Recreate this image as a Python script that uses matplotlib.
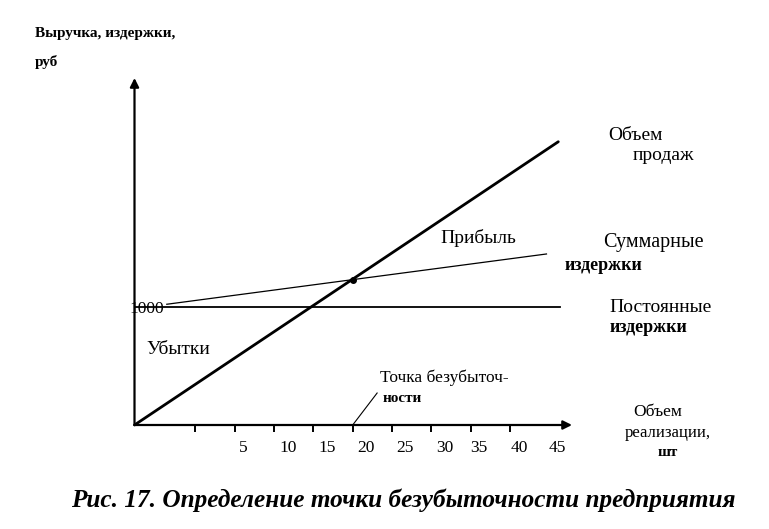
import matplotlib
matplotlib.use('Agg')
import matplotlib.pyplot as plt

plt.rcParams['font.family'] = ['Liberation Serif', 'DejaVu Serif']

# data (quantity in pieces, money in rub)
revenue_qty = [-7.7, 46.1]
revenue = [0, 2400]
fixed_qty = [-7.7, 46.3]
fixed_cost = [1000, 1000]
total_qty = [-3.6, 44.6]
total_cost = [1023, 1449]
be_qty = 20
be_value = 1225

tick_vals = [0, 5, 10, 15, 20, 25, 30, 35, 40]
tick_labels = ['5', '10', '15', '20', '25', '30', '35', '40', '45']
label_pos = [6.1, 11.8, 16.8, 21.7, 26.6, 31.7, 36.0, 41.1, 46.0]

W, H = 769, 529
fig = plt.figure(figsize=(W / 100, H / 100), dpi=100)


def fx(x):
    return x / W


def fy(y):
    return 1 - y / H


ax = fig.add_axes([fx(134.5), fy(425), fx(572) - fx(134.5), fy(78) - fy(425)])
ax.set_xlim(-7.7, 47.84)
ax.set_ylim(0, 2940)
for s in ax.spines.values():
    s.set_visible(False)
ax.patch.set_alpha(0)

# axes with arrows
ax.annotate('', xy=(1, 0), xytext=(0, 0), xycoords='axes fraction',
            arrowprops=dict(arrowstyle='-|>', lw=1.6, color='black', mutation_scale=13,
                            shrinkA=0, shrinkB=0), annotation_clip=False)
ax.annotate('', xy=(0, 1), xytext=(0, 0), xycoords='axes fraction',
            arrowprops=dict(arrowstyle='-|>', lw=1.6, color='black', mutation_scale=13,
                            shrinkA=0, shrinkB=0), annotation_clip=False)

ax.set_xticks(tick_vals)
ax.set_xticklabels([])
ax.tick_params(axis='x', which='major', direction='out', length=5, width=1.4, color='black')
ax.set_xticks(label_pos, minor=True)
ax.set_xticklabels(tick_labels, minor=True)
ax.tick_params(axis='x', which='minor', length=0, pad=11, labelsize=12.5)

ax.set_yticks([1000])
ax.set_yticklabels(['1000'], ha='left')
ax.tick_params(axis='y', length=0, pad=3.5, labelsize=12.5)

ax.plot(revenue_qty, revenue, color='black', lw=2.0, solid_capstyle='round', clip_on=False)
ax.plot(fixed_qty, fixed_cost, color='black', lw=1.3, clip_on=False)
ax.plot(total_qty, total_cost, color='black', lw=0.9, clip_on=False)
ax.plot([be_qty], [be_value], 'o', color='black', ms=4, clip_on=False)
ax.plot([be_qty, 23.1], [0, 271], color='black', lw=0.8, clip_on=False)

texts = [
    ('Выручка, издержки,', 35, 33, 11, 'bold'),
    ('руб', 35, 62, 11, 'bold'),
    ('Объем', 608, 135, 14, 'normal'),
    ('продаж', 633, 156, 14, 'normal'),
    ('Прибыль', 440, 238, 14, 'normal'),
    ('Суммарные', 603, 243, 14.5, 'normal'),
    ('издержки', 565, 265, 13, 'bold'),
    ('Постоянные', 609, 307, 14, 'normal'),
    ('издержки', 610, 327, 13, 'bold'),
    ('Убытки', 146, 349, 14, 'normal'),
    ('Точка безубыточ-', 380, 378, 12.5, 'normal'),
    ('ности', 383, 398, 11, 'bold'),
    ('Объем', 633, 412, 12.5, 'normal'),
    ('реализации,', 625, 433, 12, 'normal'),
    ('шт', 658, 452, 11, 'bold'),
]
for t, x, y, size, weight in texts:
    fig.text(fx(x), fy(y), t, fontsize=size, fontweight=weight, ha='left', va='center')

fig.text(fx(403), fy(500), 'Рис. 17. Определение точки безубыточности предприятия',
         fontsize=18.2, fontweight='bold', fontstyle='italic', ha='center', va='center')

fig.savefig('out.png', dpi=100)
